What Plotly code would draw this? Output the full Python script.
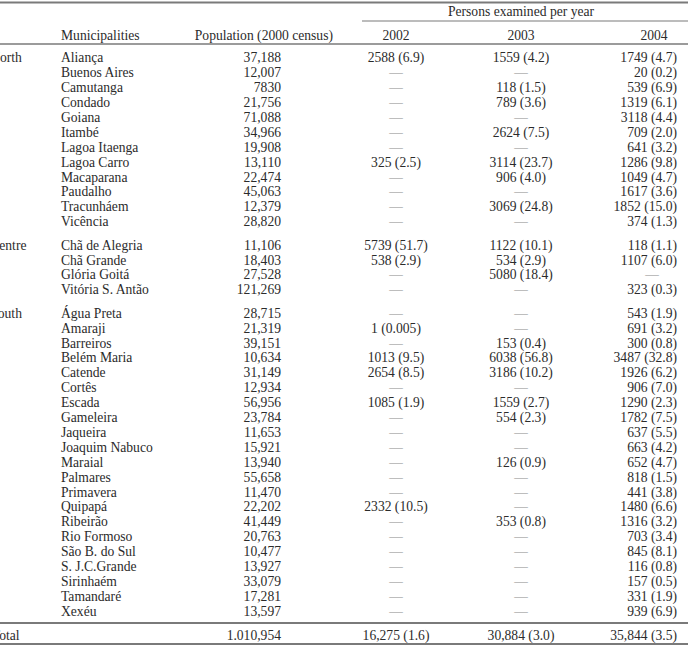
import plotly.graph_objects as go

# Table data
regions = ["North", "Centre", "South"]
municipalities = [
    ["Aliança", "Buenos Aires", "Camutanga", "Condado", "Goiana", "Itambé",
     "Lagoa Itaenga", "Lagoa Carro", "Macaparana", "Paudalho", "Tracunháem", "Vicência"],
    ["Chã de Alegria", "Chã Grande", "Glória Goitá", "Vitória S. Antão"],
    ["Água Preta", "Amaraji", "Barreiros", "Belém Maria", "Catende", "Cortês", "Escada",
     "Gameleira", "Jaqueira", "Joaquim Nabuco", "Maraial", "Palmares", "Primavera",
     "Quipapá", "Ribeirão", "Rio Formoso", "São B. do Sul", "S. J.C.Grande",
     "Sirinhaém", "Tamandaré", "Xexéu"],
]
population = [
    [37188, 12007, 7830, 21756, 71088, 34966, 19908, 13110, 22474, 45063, 12379, 28820],
    [11106, 18403, 27528, 121269],
    [28715, 21319, 39151, 10634, 31149, 12934, 56956, 23784, 11653, 15921, 13940,
     55658, 11470, 22202, 41449, 20763, 10477, 13927, 33079, 17281, 13597],
]
# (count, percent) per year, None = not examined
exam_2002 = [
    [(2588, 6.9), None, None, None, None, None, None, (325, 2.5), None, None, None, None],
    [(5739, 51.7), (538, 2.9), None, None],
    [None, (1, 0.005), None, (1013, 9.5), (2654, 8.5), None, (1085, 1.9), None, None, None,
     None, None, None, (2332, 10.5), None, None, None, None, None, None, None],
]
exam_2003 = [
    [(1559, 4.2), None, (118, 1.5), (789, 3.6), None, (2624, 7.5), None, (3114, 23.7),
     (906, 4.0), None, (3069, 24.8), None],
    [(1122, 10.1), (534, 2.9), (5080, 18.4), None],
    [None, None, (153, 0.4), (6038, 56.8), (3186, 10.2), None, (1559, 2.7), (554, 2.3),
     None, None, (126, 0.9), None, None, None, (353, 0.8), None, None, None, None, None, None],
]
exam_2004 = [
    [(1749, 4.7), (20, 0.2), (539, 6.9), (1319, 6.1), (3118, 4.4), (709, 2.0), (641, 3.2),
     (1286, 9.8), (1049, 4.7), (1617, 3.6), (1852, 15.0), (374, 1.3)],
    [(118, 1.1), (1107, 6.0), None, (323, 0.3)],
    [(543, 1.9), (691, 3.2), (300, 0.8), (3487, 32.8), (1926, 6.2), (906, 7.0), (1290, 2.3),
     (1782, 7.5), (637, 5.5), (663, 4.2), (652, 4.7), (818, 1.5), (441, 3.8), (1480, 6.6),
     (1316, 3.2), (703, 3.4), (845, 8.1), (116, 0.8), (157, 0.5), (331, 1.9), (939, 6.9)],
]
total_population = "1.010,954"
total_exam = [(16275, 1.6), (30884, 3.0), (35844, 3.5)]
year_labels = ["2002", "2003", "2004"]

FONT = "Liberation Serif"
FS = 13.6
TXT = "#2b2b2b"
DASH = "#8a8a8a"
LINE = "#7a7a7a"
W, H = 688, 648


def fmt_num(n):
    return f"{n:,}" if n >= 10000 else str(n)


def fmt_cell(c):
    if c is None:
        return "—"
    return f"{fmt_num(c[0])} ({c[1]})"


# row positions (pixel rows of the table)
row_y, group_y = [], []
y = 59.0
for g, names in enumerate(municipalities):
    group_y.append(y)
    ys = []
    for _ in names:
        ys.append(y)
        y += 14.9
    row_y.append(ys)
    y += 8.5
total_y = row_y[-1][-1] + 24.6
head_y = 37
super_y = 13

flat = lambda lst: [v for grp in lst for v in grp]
ys_all = flat(row_y)

fig = go.Figure()


def add_text(xs, ys, texts, pos, color=TXT, size=FS):
    fig.add_trace(go.Scatter(
        x=xs, y=ys, text=texts, mode="text", textposition=pos,
        textfont=dict(family=FONT, size=size, color=color),
        cliponaxis=True, hoverinfo="skip", showlegend=False))


# region labels (left edge is cropped)
add_text([-9.8] * 3 + [-8.2], group_y + [total_y], regions + ["Total"], "middle right")
# municipality names
add_text([61] * len(ys_all), ys_all, flat(municipalities), "middle right")
# population
add_text([281] * (len(ys_all) + 1), ys_all + [total_y],
         [fmt_num(p) for p in flat(population)] + [total_population], "middle left")

# years
col_x = [396, 521]
for cx, data, tot in zip(col_x, [exam_2002, exam_2003], total_exam[:2]):
    cells = flat(data)
    vals = [(yy, fmt_cell(c)) for yy, c in zip(ys_all, cells) if c is not None]
    dashes = [yy for yy, c in zip(ys_all, cells) if c is None]
    add_text([cx] * (len(vals) + 1), [v[0] for v in vals] + [total_y],
             [v[1] for v in vals] + [f"{tot[0]:,} ({tot[1]})"], "middle center")
    add_text([cx] * len(dashes), dashes, ["—"] * len(dashes), "middle center", DASH)

cells = flat(exam_2004)
vals = [(yy, fmt_cell(c)) for yy, c in zip(ys_all, cells) if c is not None]
dashes = [yy for yy, c in zip(ys_all, cells) if c is None]
add_text([677] * (len(vals) + 1), [v[0] for v in vals] + [total_y],
         [v[1] for v in vals] + [f"{total_exam[2][0]:,} ({total_exam[2][1]})"], "middle left")
add_text([652] * len(dashes), dashes, ["—"] * len(dashes), "middle center", DASH)

# headers
add_text([61], [head_y], ["Municipalities"], "middle right")
add_text([333], [head_y], ["Population (2000 census)"], "middle left")
add_text([396, 521, 654], [head_y] * 3, year_labels, "middle center")
add_text([521], [super_y], ["Persons examined per year"], "middle center")

# rules
rules = [(0, W, 2.5, 2), (362, W, 21, 1.2), (0, W, 44, 1.5), (0, W, 623, 2), (0, W, 644, 2)]
for x0, x1, yy, w in rules:
    fig.add_shape(type="line", x0=x0, x1=x1, y0=yy, y1=yy, xref="x", yref="y",
                  line=dict(color=LINE, width=w))

fig.update_layout(
    width=W, height=H, autosize=False,
    margin=dict(l=0, r=0, t=0, b=0),
    paper_bgcolor="white", plot_bgcolor="white",
    xaxis=dict(range=[0, W], visible=False, fixedrange=True),
    yaxis=dict(range=[H, 0], visible=False, fixedrange=True),
)

# drop the default body margin so the table sits flush with the window
fig.write_html("out.html", config={"displayModeBar": False},
               post_script="document.body.style.margin = '0px';")
